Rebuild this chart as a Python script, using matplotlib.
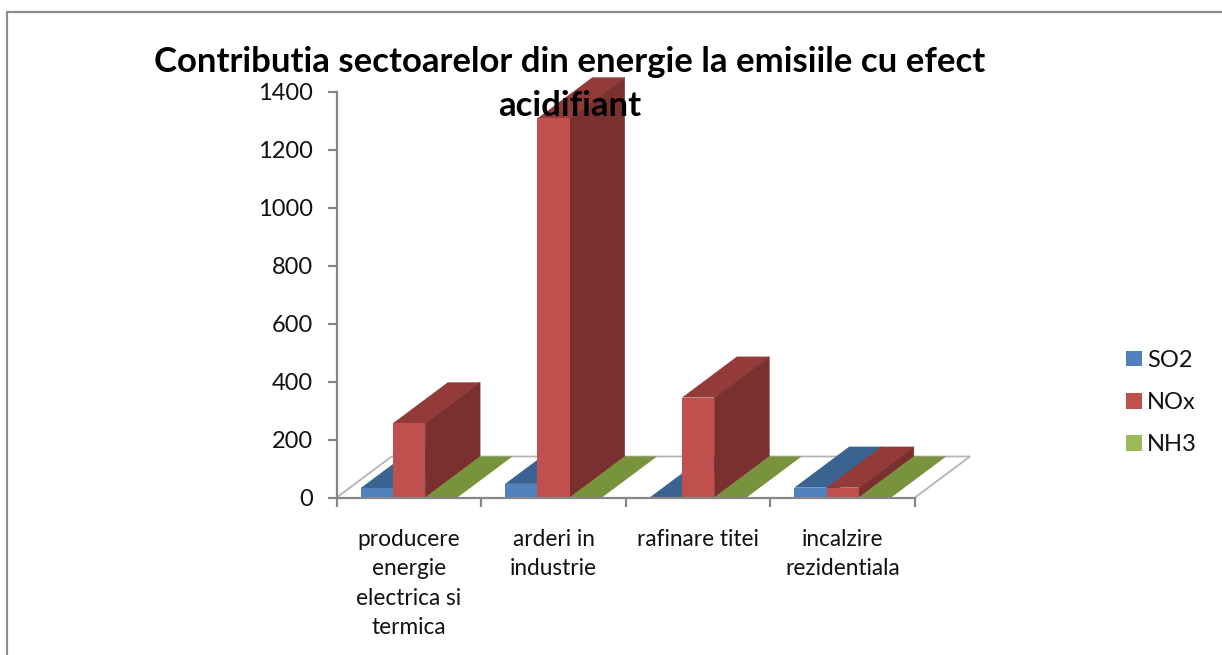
import matplotlib
matplotlib.use('Agg')
import numpy as np
import matplotlib.pyplot as plt
from matplotlib.lines import Line2D
from matplotlib.patches import Patch, Polygon

# values
categories = ['producere\nenergie\nelectrica si\ntermica', 'arderi in\nindustrie',
              'rafinare titei', 'incalzire\nrezidentiala']
so2 = [32, 47, 0, 34]
nox = [256, 1309, 345, 34]
nh3 = [0, 0, 0, 0]
series_names = ['SO2', 'NOx', 'NH3']
y_ticks = [0, 200, 400, 600, 800, 1000, 1200, 1400]
title = 'Contributia sectoarelor din energie la emisiile cu efect\nacidifiant'

# front, top, side
colors = [('#4f81bd', '#3b6392', '#2f5075'),
          ('#c0504d', '#943b39', '#7a302f'),
          ('#9bbb59', '#77933c', '#5f7530')]
legend_colors = ['#4f81bd', '#c0504d', '#9bbb59']

W, H = 1222, 655
BAR_W = 0.2235
DEPTH_X = 0.38    # fake 3d depth in category units
DEPTH_Y = 141.6   # fake 3d depth in value units
GRAY = '#868686'
FLOOR = '#b4b4b4'

plt.rcParams['font.family'] = ['Lato', 'DejaVu Sans']

fig = plt.figure(figsize=(W / 100, H / 100), dpi=100)
ax = fig.add_axes([336.7 / W, 1 - 497.5 / H, (915 - 336.7) / W, (497.5 - 92) / H])
ax.set_xlim(0, 4)
ax.set_ylim(0, 1400)
ax.patch.set_alpha(0)

# floor of the 3d chart
ax.plot([0, DEPTH_X, 4 + DEPTH_X, 4], [0, DEPTH_Y, DEPTH_Y, 0], color=FLOOR, lw=1.3,
        clip_on=False, zorder=1, solid_joinstyle='miter')

# bars, back faces first so neighbours overlap the right way
for i in range(len(categories)):
    for s, values in enumerate([so2, nox, nh3]):
        v = values[i]
        x0 = i + 0.5 + (s - 1.5) * BAR_W
        x1 = x0 + BAR_W
        front, top, side = colors[s]
        ax.add_patch(Polygon([(x0, v), (x1, v), (x1 + DEPTH_X, v + DEPTH_Y), (x0 + DEPTH_X, v + DEPTH_Y)],
                             facecolor=top, edgecolor='none', clip_on=False, zorder=2 + s))
        if v > 0:
            ax.add_patch(Polygon([(x1, 0), (x1, v), (x1 + DEPTH_X, v + DEPTH_Y), (x1 + DEPTH_X, DEPTH_Y)],
                                 facecolor=side, edgecolor=side, lw=0.4, clip_on=False, zorder=2 + s))
            ax.bar(x0, v, width=BAR_W, align='edge', color=front, clip_on=False, zorder=2 + s)

for side_name in ['top', 'right']:
    ax.spines[side_name].set_visible(False)
for side_name in ['left', 'bottom']:
    ax.spines[side_name].set_color(GRAY)
    ax.spines[side_name].set_linewidth(1.6)
    ax.spines[side_name].set_zorder(8)

ax.set_yticks(y_ticks)
ax.tick_params(axis='y', length=6.5, width=1.6, color=GRAY, labelsize=17, pad=10.5, labelcolor='#111111')
ax.set_xticks(np.arange(5))
ax.set_xticklabels([])
ax.tick_params(axis='x', which='major', length=6.5, width=1.6, color=GRAY)
ax.set_xticks(np.arange(len(categories)) + 0.5, minor=True)
ax.set_xticklabels(categories, minor=True, fontsize=16.3, linespacing=1.5, color='#111111')
ax.tick_params(axis='x', which='minor', length=0, pad=22.5)

fig.text(570 / W, 1 - 46 / H, title, ha='center', va='top', fontsize=25, fontweight='bold',
         linespacing=1.47, color='black', zorder=20)

handles = [Patch(facecolor=c, edgecolor='none') for c in legend_colors]
fig.legend(handles, series_names, loc='center left', bbox_to_anchor=(1105 / W, 1 - 402.5 / H),
           frameon=False, fontsize=17, handlelength=0.65, handleheight=0.65, handletextpad=0.22,
           labelspacing=0.9, labelcolor='#111111')

# outer frame of the chart area
fig.add_artist(Line2D([7.5 / W, 7.5 / W, 1], [0, 1 - 11.5 / H, 1 - 11.5 / H], color='#8c8c8c', lw=1.6))

fig.savefig('out.png', dpi=100)
